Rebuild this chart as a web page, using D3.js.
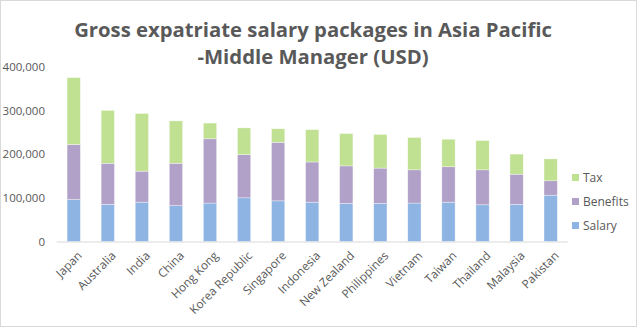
<!DOCTYPE html>
<html>
<head>
<meta charset="utf-8">
<script src="https://cdn.jsdelivr.net/npm/d3@7"></script>
<style>
  html, body { margin: 0; padding: 0; background: #fff; }
  svg { display: block; font-family: "Open Sans", "Noto Sans", sans-serif; }
</style>
</head>
<body>
<svg id="chart" width="640" height="328"></svg>
<script>
// Gross expatriate salary packages, middle manager, USD
const countries = ["Japan", "Australia", "India", "China", "Hong Kong", "Korea Republic",
  "Singapore", "Indonesia", "New Zealand", "Philippines", "Vietnam", "Taiwan",
  "Thailand", "Malaysia", "Pakistan"];
const salary   = [96000, 85000, 90000, 82000, 88000, 100000, 93000, 90000, 87000, 87000, 88000, 90000, 84000, 85000, 106000];
const benefits = [126000, 94000, 71000, 97000, 147000, 99000, 134000, 92000, 86000, 81000, 76000, 81000, 80000, 69000, 33000];
const tax      = [153000, 121000, 132000, 97000, 36000, 61000, 31000, 74000, 74000, 77000, 74000, 63000, 67000, 46000, 50000];
const seriesNames = ["Salary", "Benefits", "Tax"];
const yTicks = [0, 100000, 200000, 300000, 400000];
const titleLines = ["Gross expatriate salary packages in Asia Pacific", "-Middle Manager (USD)"];

const colors = { Salary: "#8db4e2", Benefits: "#b1a0c7", Tax: "#c0e092" };
const textColor = "#595959";

const rows = countries.map((c, i) => ({ country: c, Salary: salary[i], Benefits: benefits[i], Tax: tax[i] }));
const stacked = d3.stack().keys(seriesNames)(rows);

const svg = d3.select("#chart");

// outer frame
svg.append("rect")
  .attr("x", 0.5).attr("y", 0.5).attr("width", 636).attr("height", 326)
  .attr("fill", "#fff").attr("stroke", "#d9d9d9");

const plot = { left: 56.7, right: 567.7, top: 66.7, bottom: 241.5 };

const x = d3.scaleBand().domain(countries).range([plot.left, plot.right]).paddingInner(0.61).paddingOuter(0.305);
const y = d3.scaleLinear().domain([0, 400000]).range([plot.bottom, plot.top]);

// title
svg.append("g").selectAll("text").data(titleLines).join("text")
  .attr("x", 313).attr("y", (d, i) => 37 + i * 27)
  .attr("text-anchor", "middle")
  .attr("font-size", 20.3).attr("font-weight", "bold")
  .attr("fill", textColor)
  .text(d => d);

// bars
svg.append("g").selectAll("g").data(stacked).join("g")
  .attr("fill", d => colors[d.key])
  .selectAll("rect").data(d => d).join("rect")
  .attr("x", d => x(d.data.country))
  .attr("width", x.bandwidth())
  .attr("y", d => y(d[1]))
  .attr("height", d => y(d[0]) - y(d[1]))
  .attr("stroke", "#ffffff").attr("stroke-opacity", 0.6).attr("stroke-width", 0.6);

// y axis labels (no axis line)
const yAxis = d3.axisLeft(y).tickValues(yTicks).tickFormat(d3.format(",")).tickSize(0).tickPadding(0);
const yG = svg.append("g").attr("transform", `translate(${45},0)`).call(yAxis);
yG.select(".domain").remove();
yG.selectAll("text").attr("font-size", 11.5).attr("fill", textColor).attr("font-family", "Open Sans, sans-serif");

// x axis baseline and rotated labels
const xAxis = d3.axisBottom(x).tickSize(0).tickPadding(0);
const xG = svg.append("g").attr("transform", `translate(0,${plot.bottom})`).call(xAxis);
xG.select(".domain").attr("stroke", "#d9d9d9").attr("d", `M${plot.left},0.5H${plot.right}`);
xG.selectAll("text")
  .attr("font-size", 11.8).attr("fill", textColor).attr("font-family", "Open Sans, sans-serif")
  .attr("text-anchor", "end")
  .attr("dy", "0.35em")
  .attr("transform", "translate(6,12) rotate(-45)")
  .attr("y", 0).attr("x", 0);

// legend
const legendItems = ["Tax", "Benefits", "Salary"];
const lg = svg.append("g").selectAll("g").data(legendItems).join("g")
  .attr("transform", (d, i) => `translate(572,${177.5 + i * 24})`);
lg.append("rect").attr("x", 0).attr("y", -3.5).attr("width", 7).attr("height", 7).attr("fill", d => colors[d]);
lg.append("text").attr("x", 11).attr("dy", "0.35em")
  .attr("font-size", 12).attr("fill", textColor).text(d => d);
</script>
</body>
</html>
